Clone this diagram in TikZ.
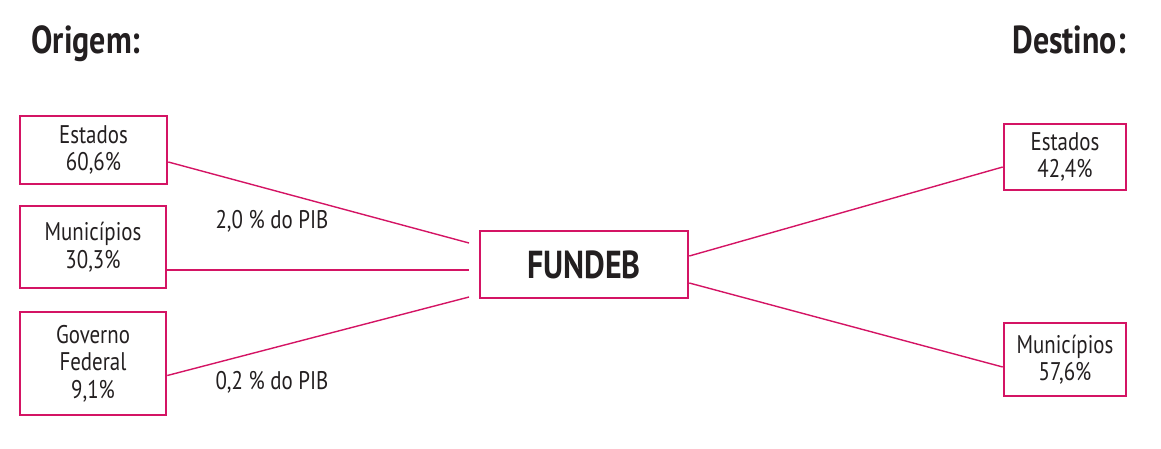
\documentclass[tikz,border=0pt]{standalone}
\usepackage{fontspec}
\setmainfont{PT Sans}[FakeStretch=0.82]
\definecolor{rubine}{RGB}{212,20,100}
\definecolor{ink}{RGB}{35,31,32}
\begin{document}
\begin{tikzpicture}[x=1pt,y=-1pt,
  box/.style={draw=rubine,line width=2.6pt,inner sep=0pt,align=center,
    text=ink,font=\fontsize{25.5}{27.5}\selectfont},
  conn/.style={draw=rubine,line width=1.4pt},
  lbl/.style={text=ink,font=\fontsize{25.5}{27.5}\selectfont,anchor=base,inner sep=0pt},
  head/.style={text=ink,font=\fontsize{39}{42}\selectfont\bfseries,anchor=base,inner sep=0pt}]
\useasboundingbox (0,0) rectangle (1161,448);
\node[head] (origem) at (86,53) {Origem:};
\node[head] (destino) at (1069,53) {Destino:};
\node[box,minimum width=147pt,minimum height=68pt] (es) at (93.5,150) {Estados\\60,6\%};
\node[box,minimum width=146pt,minimum height=82pt] (mu) at (93,247) {Municípios\\30,3\%};
\node[box,minimum width=146pt,minimum height=103pt] (gf) at (93,363.5) {Governo\\Federal\\9,1\%};
\node[box,minimum width=208pt,minimum height=67pt,font=\fontsize{39}{42}\selectfont\bfseries] (fu) at (584,264.5) {FUNDEB};
\node[box,minimum width=122pt,minimum height=66pt] (des) at (1065,157) {Estados\\42,4\%};
\node[box,minimum width=122pt,minimum height=73pt] (dmu) at (1065,359.5) {Municípios\\57,6\%};
\coordinate (f1) at (469,243);
\coordinate (f2) at (469,270);
\coordinate (f3) at (469,297);
\draw[conn] ([yshift=-12pt]es.east) -- (f1);
\draw[conn] ([yshift=-23pt]mu.east) -- (f2);
\draw[conn] ([yshift=-12pt]gf.east) -- (f3);
\draw[conn] ([yshift=8.5pt]fu.east) -- ([yshift=-10pt]des.west);
\draw[conn] ([yshift=-18.5pt]fu.east) -- ([yshift=-7.5pt]dmu.west);
\node[lbl] (p1) at (272,228) {2,0 \% do PIB};
\node[lbl] (p2) at (272,389) {0,2 \% do PIB};
\end{tikzpicture}
\end{document}
